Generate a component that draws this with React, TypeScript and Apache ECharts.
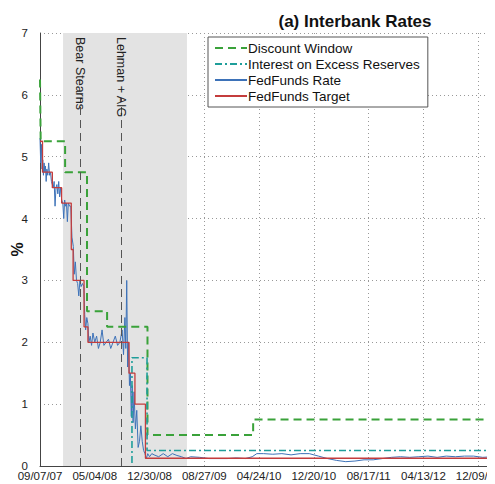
import { useRef, useEffect } from 'react'
import * as echarts from 'echarts'

// x values are days since 09/07/07
const startDate = Date.UTC(2007, 8, 7)
const xTicks = { min: 0, max: 1985, interval: 240 }
const yTicks = { min: 0, max: 7, interval: 1 }

const discountWindow: [number, number][] = [
  [0, 6.25], [3, 6.25], [3, 5.25], [110, 5.25], [110, 4.75], [206, 4.75], [206, 2.5],
  [294, 2.5], [294, 2.25], [471, 2.25], [471, 0.5], [934, 0.5], [934, 0.75], [1985, 0.75],
]
const ioer: [number, number][] = [
  [403, 0.05], [403, 1.75], [469, 1.75], [469, 0.25], [1985, 0.25],
]
const fedTarget: [number, number][] = [
  [0, 5.25], [11, 5.25], [11, 4.75], [54, 4.75], [54, 4.5], [95, 4.5], [95, 4.25],
  [137, 4.25], [137, 3.5], [145, 3.5], [145, 3.0], [193, 3.0], [193, 2.25], [210, 2.25], [210, 2.0],
  [390, 2.0], [390, 1.5], [416, 1.5], [416, 1.0], [462, 1.0], [462, 0.125], [1985, 0.125],
]
const fedRate: [number, number][] = [
  [0, 5.3], [3, 4.9], [6, 5.2], [9, 4.8], [12, 4.95], [15, 4.7], [18, 4.9], [21, 4.75], [24, 4.85],
  [27, 4.6], [30, 4.8], [34, 4.7], [38, 4.9], [42, 4.7], [46, 4.75], [50, 4.6], [54, 4.55],
  [58, 4.5], [62, 4.6], [66, 4.2], [70, 4.5], [74, 4.55], [78, 4.4], [82, 4.6], [86, 4.35],
  [90, 4.5], [95, 4.3], [100, 4.25], [104, 4.0], [108, 4.3], [112, 4.2], [116, 4.25], [120, 3.95],
  [124, 4.25], [130, 4.2], [135, 4.2], [140, 3.7], [146, 3.55], [150, 3.1], [155, 3.3], [160, 3.0],
  [165, 2.95], [170, 2.75], [175, 3.0], [180, 2.9], [186, 2.95], [192, 2.9], [196, 2.45],
  [200, 2.2], [205, 2.4], [210, 2.3], [214, 2.0], [220, 2.1], [226, 1.95], [232, 2.15], [240, 2.0],
  [248, 2.1], [256, 1.9], [264, 2.0], [272, 2.2], [280, 1.95], [290, 2.0], [300, 2.05], [310, 1.9],
  [320, 2.0], [330, 2.1], [340, 1.95], [350, 2.0], [360, 2.2], [366, 1.8], [372, 2.4], [376, 1.9],
  [380, 3.0], [384, 1.6], [388, 2.0], [392, 1.3], [396, 1.5], [400, 0.8], [404, 1.3], [408, 0.7],
  [412, 1.2], [418, 0.6], [424, 0.9], [430, 0.3], [436, 0.4], [442, 0.65], [448, 0.4], [454, 0.25],
  [460, 0.2], [466, 0.12], [472, 0.2], [480, 0.15], [490, 0.2], [500, 0.18], [520, 0.15], [540, 0.2],
  [560, 0.15], [580, 0.2], [600, 0.17], [620, 0.15], [640, 0.12], [660, 0.15], [700, 0.14],
  [740, 0.12], [780, 0.12], [820, 0.12], [860, 0.13], [900, 0.12], [930, 0.15], [950, 0.2],
  [980, 0.2], [1020, 0.19], [1060, 0.2], [1100, 0.18], [1140, 0.2], [1180, 0.2], [1220, 0.16],
  [1260, 0.12], [1300, 0.09], [1340, 0.07], [1380, 0.08], [1420, 0.1], [1460, 0.1], [1500, 0.12],
  [1540, 0.14], [1580, 0.15], [1620, 0.14], [1660, 0.15], [1700, 0.16], [1740, 0.14], [1780, 0.16],
  [1820, 0.15], [1860, 0.16], [1900, 0.16], [1940, 0.14], [1985, 0.15],
]
const recession = [101, 644]
const events = [
  { name: 'Bear Stearns', day: 175 },
  { name: 'Lehman + AIG', day: 355 },
]
const eventLineTop = 5.95

const pad = (n: number) => String(n).padStart(2, '0')
const dayLabel = (v: number) => {
  const d = new Date(startDate + v * 86400000)
  return `${pad(d.getUTCMonth() + 1)}/${pad(d.getUTCDate())}/${pad(d.getUTCFullYear() % 100)}`
}

const font = 'Arial, "Liberation Sans", sans-serif'

export default function App() {
  const chartRef = useRef<HTMLDivElement>(null)

  useEffect(() => {
    if (!chartRef.current) return
    const chart = echarts.init(chartRef.current, undefined, { renderer: 'svg' })

    const option: echarts.EChartsOption = {
      animation: false,
      textStyle: { fontFamily: font },
      title: {
        text: '(a) Interbank Rates',
        left: 342,
        top: 0,
        textAlign: 'center',
        textStyle: { fontSize: 17, fontWeight: 'bold', color: '#111', fontFamily: font },
      },
      legend: {
        orient: 'vertical',
        left: 200,
        top: 29,
        itemWidth: 32,
        itemHeight: 10,
        itemGap: 2,
        padding: [4, 8, 4, 6],
        borderColor: '#555',
        borderWidth: 1,
        backgroundColor: '#fff',
        itemStyle: { opacity: 0 },
        textStyle: { fontSize: 13.5, color: '#111', fontFamily: font, padding: [0, 0, 0, -4] },
        data: ['Discount Window', 'Interest on Excess Reserves', 'FedFunds Rate', 'FedFunds Target'],
      },
      grid: { left: 32, right: 2, top: 25, bottom: 18, outerBoundsMode: 'none' } as any,
      xAxis: {
        type: 'value',
        ...xTicks,
        axisLabel: {
          formatter: (v: number) => dayLabel(v),
          fontSize: 11.5,
          color: '#222',
          showMaxLabel: false,
          margin: 4,
        },
        axisLine: { lineStyle: { color: '#444' } },
        axisTick: { show: false },
        splitLine: { show: true, lineStyle: { color: '#999', type: [1, 3] } },
      },
      yAxis: {
        type: 'value',
        ...yTicks,
        name: '%',
        nameLocation: 'middle',
        nameGap: 15,
        nameMoveOverlap: false,
        nameTextStyle: { fontSize: 16, fontWeight: 'bold', color: '#111' },
        axisLabel: { fontSize: 11.5, color: '#222', margin: 12 },
        axisLine: { show: true, lineStyle: { color: '#444' } },
        axisTick: { show: false },
        splitLine: { show: true, lineStyle: { color: '#999', type: [1, 3] } },
      } as any,
      series: [
        {
          name: 'Discount Window',
          type: 'line',
          data: discountWindow,
          symbol: 'none',
          lineStyle: { color: '#3aa23a', width: 2, type: [8, 5] },
          itemStyle: { color: '#3aa23a' },
          z: 3,
          markArea: {
            silent: true,
            itemStyle: { color: '#e3e3e3' },
            data: [[{ xAxis: recession[0] }, { xAxis: recession[1] }]],
          },
          markLine: {
            silent: true,
            symbol: 'none',
            data: [
              ...events.map((e) => [
                { coord: [e.day, 0], lineStyle: { color: '#555', type: [8, 5], width: 1 }, label: { show: false } },
                { coord: [e.day, eventLineTop] },
              ]),
              ...events.map((e) => [
                {
                  coord: [e.day, 7],
                  lineStyle: { color: 'rgba(0,0,0,0)', width: 1 },
                  label: {
                    show: true,
                    formatter: e.name,
                    position: 'insideStart',
                    distance: 4,
                    fontSize: 12.5,
                    color: '#222',
                    fontFamily: font,
                  },
                },
                { coord: [e.day, eventLineTop] },
              ]),
            ] as any,
          },
        },
        {
          name: 'Interest on Excess Reserves',
          type: 'line',
          data: ioer,
          symbol: 'none',
          lineStyle: { color: '#1f9e9a', width: 1.6, type: [7, 3, 2, 3] },
          itemStyle: { color: '#1f9e9a' },
          z: 3,
        },
        {
          name: 'FedFunds Rate',
          type: 'line',
          data: fedRate,
          symbol: 'none',
          lineStyle: { color: '#3d72b8', width: 1 },
          itemStyle: { color: '#3d72b8' },
          z: 2,
        },
        {
          name: 'FedFunds Target',
          type: 'line',
          data: fedTarget,
          symbol: 'none',
          lineStyle: { color: '#c43c3c', width: 1.3 },
          itemStyle: { color: '#c43c3c' },
          z: 4,
        },
      ],
    }
    chart.setOption(option)
    return () => chart.dispose()
  }, [])

  return <div ref={chartRef} style={{ width: 487, height: 476 }} />
}
